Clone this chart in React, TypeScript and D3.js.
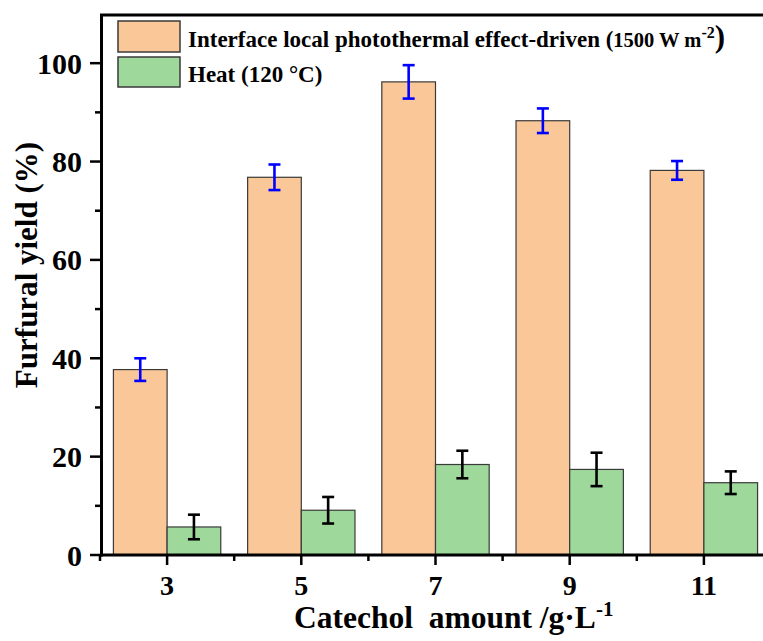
import React from "react";
import * as d3 from "d3";

const categories = [3, 5, 7, 9, 11];
const photoValues = [37.7, 76.8, 96.2, 88.3, 78.2];
const photoErrors = [2.3, 2.6, 3.4, 2.5, 1.9];
const heatValues = [5.7, 9.1, 18.4, 17.4, 14.7];
const heatErrors = [2.5, 2.7, 2.8, 3.4, 2.3];
const yMajorTicks = [0, 20, 40, 60, 80, 100];
const yMinorTicks = [10, 30, 50, 70, 90];
const xMinorTicks = [2, 4, 6, 8, 10, 12];

const W = 763;
const H = 641;
const FONT = "'Liberation Serif', 'Times New Roman', serif";
const ORANGE = "#FAC898";
const GREEN = "#9ED89B";

export default function App() {
  const x = d3.scaleLinear().domain([2, 12]).range([100, 771]);
  const y = d3.scaleLinear().domain([0, 110]).range([555, 14]);
  const barW = x(2.8) - x(2);
  const cap = 6;

  const series = [
    { values: photoValues, errors: photoErrors, fill: ORANGE, err: "#0000FF", offset: -barW },
    { values: heatValues, errors: heatErrors, fill: GREEN, err: "#000000", offset: 0 },
  ];

  return (
    <svg
      width={W}
      height={H}
      style={{ position: "absolute", left: 0, top: 0, background: "#fff" }}
      fontFamily={FONT}
      fontWeight="bold"
    >
      {/* bars */}
      {series.map((s, si) => (
        <g key={si}>
          {categories.map((c, i) => (
            <rect
              key={c}
              x={x(c) + s.offset}
              y={y(s.values[i])}
              width={barW}
              height={y(0) - y(s.values[i])}
              fill={s.fill}
              stroke="#3a3a3a"
              strokeWidth={1.2}
            />
          ))}
        </g>
      ))}
      {/* error bars */}
      {series.map((s, si) => (
        <g key={"e" + si} stroke={s.err} strokeWidth={2.6}>
          {categories.map((c, i) => {
            const cx = x(c) + s.offset + barW / 2;
            const top = y(s.values[i] + s.errors[i]);
            const bot = y(s.values[i] - s.errors[i]);
            return (
              <g key={c}>
                <line x1={cx} x2={cx} y1={top} y2={bot} />
                <line x1={cx - cap} x2={cx + cap} y1={top} y2={top} />
                <line x1={cx - cap} x2={cx + cap} y1={bot} y2={bot} />
              </g>
            );
          })}
        </g>
      ))}

      {/* axes frame */}
      <line x1={101.5} x2={101.5} y1={y(110)} y2={y(0) + 1.5} stroke="#000" strokeWidth={3} />
      <line x1={100} x2={W} y1={y(0)} y2={y(0)} stroke="#000" strokeWidth={3} />
      <line x1={100} x2={W} y1={15} y2={15} stroke="#000" strokeWidth={3} />

      {/* y ticks */}
      {yMajorTicks.map((t) => (
        <g key={t}>
          <line x1={90} x2={101} y1={y(t)} y2={y(t)} stroke="#000" strokeWidth={2.5} />
          <text x={82} y={y(t)} dy="0.35em" textAnchor="end" fontSize={30}>
            {t}
          </text>
        </g>
      ))}
      {yMinorTicks.map((t) => (
        <line key={t} x1={95} x2={101} y1={y(t)} y2={y(t)} stroke="#000" strokeWidth={2.5} />
      ))}

      {/* x ticks */}
      {categories.map((c) => (
        <g key={c}>
          <line x1={x(c)} x2={x(c)} y1={y(0)} y2={y(0) + 10} stroke="#000" strokeWidth={2.5} />
          <text x={x(c)} y={595} textAnchor="middle" fontSize={28}>
            {c}
          </text>
        </g>
      ))}
      {xMinorTicks.map((c) => (
        <line key={c} x1={x(c)} x2={x(c)} y1={y(0)} y2={y(0) + 6} stroke="#000" strokeWidth={2.5} />
      ))}

      {/* axis titles */}
      <text
        transform="translate(37,265) rotate(-90)"
        textAnchor="middle"
        fontSize={31}
      >
        Furfural yield (%)
      </text>
      <text x={294} y={628} fontSize={31.5} style={{ whiteSpace: "pre" }}>
        {"Catechol  amount /g·L"}
        <tspan fontSize={21} dy={-12}>-1</tspan>
      </text>

      {/* legend */}
      <rect x={118} y={21} width={62} height={31} fill={ORANGE} stroke="#3a3a3a" strokeWidth={1.5} />
      <rect x={118} y={57} width={62} height={30} fill={GREEN} stroke="#3a3a3a" strokeWidth={1.5} />
      <text x={188} y={47} fontSize={23}>
        Interface local photothermal effect-driven (
        <tspan fontSize={20.5}>1500 W m</tspan>
        <tspan fontSize={16} dy={-9}>-2</tspan>
        <tspan fontSize={31} dy={9}>)</tspan>
      </text>
      <text x={188} y={82} fontSize={23}>
        Heat (120 °C)
      </text>
    </svg>
  );
}
